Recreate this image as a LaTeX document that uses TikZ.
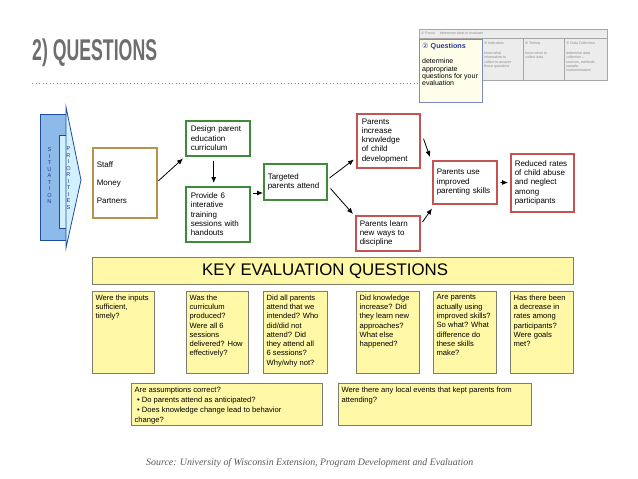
\documentclass[tikz,border=0pt]{standalone}
\usepackage{fontspec}
\setmainfont{Liberation Sans}
\newfontfamily\srcfont{Liberation Serif}
\newfontfamily\dv{DejaVu Sans}
\usetikzlibrary{arrows.meta,calc}
\definecolor{lgreen}{HTML}{3C8C3C}
\definecolor{lred}{HTML}{C55352}
\definecolor{ltan}{HTML}{B8924A}
\definecolor{qfill}{HTML}{FFF8A6}
\definecolor{qborder}{HTML}{7E7E70}
\definecolor{sitdark}{HTML}{8CBBEB}
\definecolor{sitlight}{HTML}{D2F0FF}
\definecolor{sitline}{HTML}{1F4C9E}
\definecolor{titlegray}{HTML}{6E6E6E}
\definecolor{insetgray}{HTML}{ECECEC}
\definecolor{insettext}{HTML}{8A8A8A}
\definecolor{qblue}{HTML}{2A3C9A}
\begin{document}
\begin{tikzpicture}[x=1pt,y=-1pt,
  lbox/.style={draw, line width=1.5pt, fill=white, inner sep=0pt, anchor=north west, align=left,
    font=\fontsize{8}{9.3}\selectfont},
  qbox/.style={draw=qborder, fill=qfill, line width=1.3pt, inner sep=3pt, anchor=north west,
    font=\fontsize{7.6}{9.3}\selectfont},
  arr/.style={-{Latex[length=6pt,width=5pt]}, line width=0.8pt},
  sitletters/.style={inner sep=0pt, align=center, text=sitline!80!black, font=\fontsize{5.6}{6.5}\selectfont},
  tiny/.style={inner sep=0pt, anchor=north west, align=left, text=insettext, font=\fontsize{3.6}{4.1}\selectfont}
]
\useasboundingbox (0,0) rectangle (638,479);

% title
\node[inner sep=0pt, anchor=base west, text=titlegray] (title) at (32,60)
  {\scalebox{0.59}[1]{\fontsize{30}{30}\selectfont\bfseries 2) QUESTIONS}};
\coordinate (dotA) at (32,83);
\coordinate (dotB) at (418,83);
\draw[titlegray!80, line width=0.9pt, dash pattern=on 0.9pt off 2.6pt] (dotA) -- (dotB);

% inset
\node[draw=gray!70, fill=insetgray, line width=0.6pt, anchor=north west, minimum width=188, minimum height=51, inner sep=0pt] (inset) at (419,29) {};
\draw[gray!70, line width=0.5pt] (419,38) -- (607,38);
\draw[gray!70, line width=0.5pt] (523,38) -- (523,80);
\draw[gray!70, line width=0.5pt] (564,38) -- (564,80);
\node[tiny, anchor=west] (focus) at (421,33.5) {{\dv ①} Focus \quad determine what to evaluate};
\node[tiny] (ind) at (484,41.5) {{\dv ③} Indicators};
\node[tiny] (indt) at (484,52) {know what\\information to\\collect to answer\\those questions};
\node[tiny] (tim) at (525,41.5) {{\dv ④} Timing};
\node[tiny] (timt) at (525,52) {know when to\\collect data};
\node[tiny] (dat) at (566,41.5) {{\dv ⑤} Data Collection};
\node[tiny] (datt) at (566,52) {determine data\\collection --\\sources, methods\\sample,\\instrumentation};
\node[draw=qblue!60, fill=yellow!8, line width=0.8pt, anchor=north west, minimum width=63, minimum height=63, inner sep=0pt] (qinset) at (419,39) {};
\node[inner sep=0pt, anchor=west, text=qblue, font=\fontsize{7.2}{8}\selectfont\bfseries] (qhead) at (422,46.5) {{\dv\mdseries ②} Questions};
\node[inner sep=0pt, anchor=north west, align=left, font=\fontsize{7}{7.4}\selectfont] (qbody) at (422,58.5)
  {determine\\appropriate\\questions for your\\evaluation};

% situation / priorities
\fill[sitdark] (40,114) -- (66,114) -- (66,135) -- (59,135) -- (59,228) -- (66,228) -- (66,240) -- (40,240) -- cycle;
\fill[sitlight] (59,135) -- (66,135) -- (66,107) -- (81,180) -- (66,248) -- (66,228) -- (59,228) -- cycle;
\draw[sitline, line width=0.8pt, line join=miter] (66,114) -- (40,114) -- (40,240) -- (66,240);
\draw[sitline, line width=0.8pt] (66,107) -- (81,180) -- (66,248) -- cycle;
\draw[sitline, line width=0.5pt] (66,135) -- (59,135) -- (59,228) -- (66,228);
\node[sitletters] (sit) at (49.5,176) {S\\I\\T\\U\\A\\T\\I\\O\\N};
\node[sitletters] (pri) at (68.5,178) {P\\R\\I\\O\\R\\I\\T\\I\\E\\S};

% logic model
\node[lbox, draw=ltan, minimum width=64, minimum height=70, text width=56] (inputs) at (92,147)
  {Staff\\[9pt]Money\\[9pt]Partners};
\node[lbox, draw=lgreen, minimum width=64, minimum height=35, text width=54] (design) at (185,120)
  {Design parent\\education\\curriculum};
\node[lbox, draw=lgreen, minimum width=64, minimum height=55, text width=54] (provide) at (185,186)
  {Provide 6\\interative\\training\\sessions with\\handouts};
\node[lbox, draw=lgreen, minimum width=63, minimum height=36, text width=55] (targeted) at (263,163)
  {Targeted\\parents attend};
\node[lbox, draw=lred, minimum width=63, minimum height=54, text width=53] (increase) at (356,113)
  {Parents\\increase\\knowledge\\of child\\development};
\node[lbox, draw=lred, minimum width=64, minimum height=35, text width=56] (learn) at (355,215)
  {Parents learn\\new ways to\\discipline};
\node[lbox, draw=lred, minimum width=64, minimum height=43, text width=56] (use) at (432,160)
  {Parents use\\improved\\parenting skills};
\node[lbox, draw=lred, minimum width=63, minimum height=58, text width=55] (reduced) at (510,153)
  {Reduced rates\\of child abuse\\and neglect\\among\\participants};

\draw[arr] ($(inputs.east)+(1,-2)$) -- ($(design.south west)+(-2,2)$);
\draw[arr] ($(design.south)+(-4,4)$) -- ($(provide.north)+(-4,-3)$);
\coordinate (a1) at ($(provide.north east)+(2,7)$);
\draw[arr] (a1) -- (a1 -| targeted.west);
\draw[arr] ($(targeted.north east)+(2,15)$) -- ($(increase.south west)+(-2,-9)$);
\draw[arr] ($(targeted.south east)+(3,-12)$) -- ($(learn.north west)+(-2,-1)$);
\draw[arr] ($(increase.east)+(3,-2)$) -- ($(use.north west)+(-2,-3)$);
\draw[arr] ($(learn.north east)+(2,7)$) -- ($(use.south west)+(0,4)$);
\draw[arr, shorten <=3pt, shorten >=2pt] (use.east) -- (reduced.west);

% key evaluation questions
\node[draw=qborder, fill=qfill, line width=1.3pt, anchor=north west, minimum width=481, minimum height=27, inner sep=0pt,
  font=\fontsize{16.8}{18}\selectfont] (banner) at (92,257) {KEY EVALUATION QUESTIONS\hspace*{16pt}};

\node[qbox] (q1) at (92,291) {\parbox[c][76pt][t]{56pt}{\raggedright Were the inputs sufficient, timely?}};
\node[qbox] (q2) at (186,291) {\parbox[c][76pt][t]{56pt}{\raggedright Was the\\curriculum\\produced?\\Were all 6\\sessions\\delivered? How\\effectively?}};
\node[qbox] (q3) at (263,291) {\parbox[c][76pt][t]{58pt}{\raggedright Did all parents\\attend that we\\intended? Who\\did/did not\\attend? Did\\they attend all\\6 sessions?\\Why/why not?}};
\node[qbox] (q4) at (356,291) {\parbox[c][76pt][t]{57pt}{\raggedright Did knowledge\\increase? Did\\they learn new\\approaches?\\What else\\happened?}};
\node[qbox] (q5) at (433,291) {\parbox[c][76pt][t]{57pt}{\raggedright Are parents\\actually using\\improved skills?\\So what? What\\difference do\\these skills\\make?}};
\node[qbox] (q6) at (510,291) {\parbox[c][76pt][t]{57pt}{\raggedright Has there been\\a decrease in\\rates among\\participants?\\Were goals\\met?}};

\node[qbox] (qa) at (131,383) {\parbox[c][36pt][t]{185pt}{\fontsize{7.6}{10}\selectfont\raggedright Are assumptions correct?\\\hspace*{2.5pt}\textbullet\ Do parents attend as anticipated?\\\hspace*{2.5pt}\textbullet\ Does knowledge change lead to behavior\\change?}};
\node[qbox] (qb) at (338,383) {\parbox[c][36pt][t]{187pt}{\fontsize{7.6}{10}\selectfont\raggedright Were there any local events that kept parents from\\attending?}};

% source
\node[inner sep=0pt, anchor=west, text=black!65] (source) at (146,463)
  {\resizebox{327pt}{!}{\srcfont\itshape Source: University of Wisconsin Extension, Program Development and Evaluation}};
\end{tikzpicture}
\end{document}
